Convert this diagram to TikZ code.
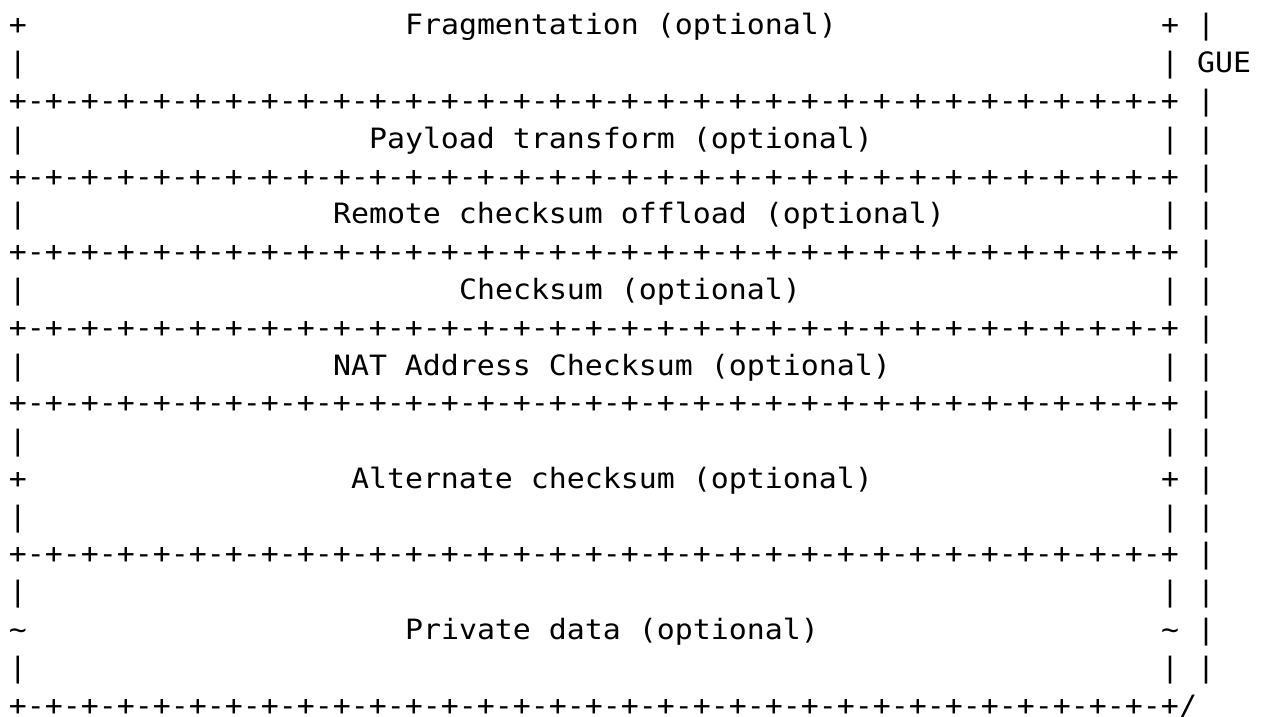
\documentclass[tikz,border=0pt]{standalone}
\usepackage{fontspec}
\newfontfamily\asciimono[FakeStretch=1.0678]{DejaVu Sans Mono}
\tikzset{
  txt/.style={inner sep=0pt, outer sep=0pt, anchor=base west, font=\asciimono\fontsize{14pt}{16pt}\selectfont, text=black}
}
% column c, row r (1-based) -> position of the character's left edge on its baseline
\newcommand\cellat[4]{\node[txt] (#1) at ({4.5pt+9pt*#2},{-17.5pt-18.89pt*(#3-1)}) {#4};}
\def\dashrow{+-+-+-+-+-+-+-+-+-+-+-+-+-+-+-+-+-+-+-+-+-+-+-+-+-+-+-+-+-+-+-+-+}
\begin{document}
\begin{tikzpicture}
\fill[white] (0,0) rectangle (631.5pt,-358.5pt);
\useasboundingbox (0,0) rectangle (631.5pt,-358.5pt);
% row 1
\cellat{r1a}{0}{1}{+}
\cellat{frag}{22}{1}{Fragmentation (optional)}
\cellat{r1b}{64}{1}{+}
\cellat{r1c}{66}{1}{|}
% row 2
\cellat{r2a}{0}{2}{|}
\cellat{r2b}{64}{2}{|}
\cellat{gue}{66}{2}{GUE}
% row 3
\cellat{d3}{0}{3}{\dashrow}
\cellat{r3c}{66}{3}{|}
% row 4
\cellat{r4a}{0}{4}{|}
\cellat{pay}{20}{4}{Payload transform (optional)}
\cellat{r4b}{64}{4}{|}
\cellat{r4c}{66}{4}{|}
% row 5
\cellat{d5}{0}{5}{\dashrow}
\cellat{r5c}{66}{5}{|}
% row 6
\cellat{r6a}{0}{6}{|}
\cellat{rco}{18}{6}{Remote checksum offload (optional)}
\cellat{r6b}{64}{6}{|}
\cellat{r6c}{66}{6}{|}
% row 7
\cellat{d7}{0}{7}{\dashrow}
\cellat{r7c}{66}{7}{|}
% row 8
\cellat{r8a}{0}{8}{|}
\cellat{csum}{25}{8}{Checksum (optional)}
\cellat{r8b}{64}{8}{|}
\cellat{r8c}{66}{8}{|}
% row 9
\cellat{d9}{0}{9}{\dashrow}
\cellat{r9c}{66}{9}{|}
% row 10
\cellat{r10a}{0}{10}{|}
\cellat{nat}{18}{10}{NAT Address Checksum (optional)}
\cellat{r10b}{64}{10}{|}
\cellat{r10c}{66}{10}{|}
% row 11
\cellat{d11}{0}{11}{\dashrow}
\cellat{r11c}{66}{11}{|}
% row 12
\cellat{r12a}{0}{12}{|}
\cellat{r12b}{64}{12}{|}
\cellat{r12c}{66}{12}{|}
% row 13
\cellat{r13a}{0}{13}{+}
\cellat{alt}{19}{13}{Alternate checksum (optional)}
\cellat{r13b}{64}{13}{+}
\cellat{r13c}{66}{13}{|}
% row 14
\cellat{r14a}{0}{14}{|}
\cellat{r14b}{64}{14}{|}
\cellat{r14c}{66}{14}{|}
% row 15
\cellat{d15}{0}{15}{\dashrow}
\cellat{r15c}{66}{15}{|}
% row 16
\cellat{r16a}{0}{16}{|}
\cellat{r16b}{64}{16}{|}
\cellat{r16c}{66}{16}{|}
% row 17
\cellat{r17a}{0}{17}{\textasciitilde}
\cellat{priv}{22}{17}{Private data (optional)}
\cellat{r17b}{64}{17}{\textasciitilde}
\cellat{r17c}{66}{17}{|}
% row 18
\cellat{r18a}{0}{18}{|}
\cellat{r18b}{64}{18}{|}
\cellat{r18c}{66}{18}{|}
% row 19
\cellat{d19}{0}{19}{\dashrow}
\cellat{r19c}{65}{19}{/}
\end{tikzpicture}
\end{document}
